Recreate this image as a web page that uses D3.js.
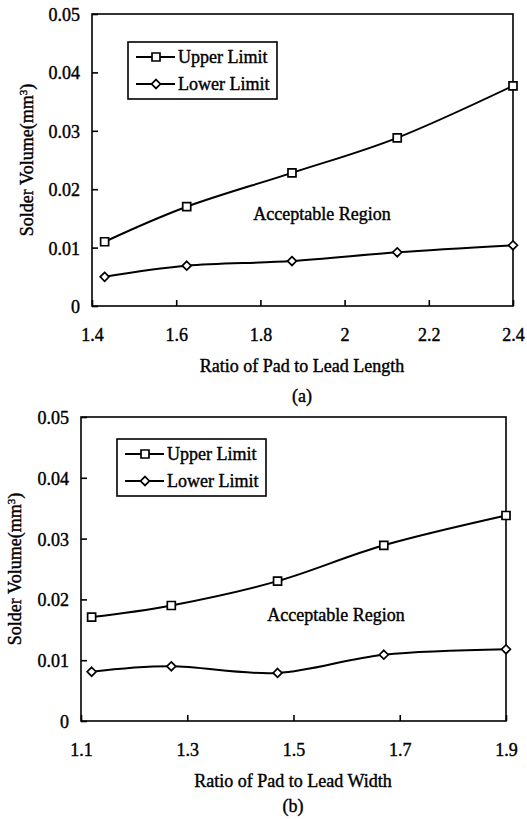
<!DOCTYPE html>
<meta charset="utf-8">
<style>
body { margin: 0; background: #fff; }
svg text { font-family: "Liberation Serif", "Times New Roman", serif; fill: #000; stroke: #000; stroke-width: 0.4px; }
.frame { fill: none; stroke: #000; stroke-width: 1.6px; }
.line { fill: none; stroke: #000; stroke-width: 2px; }
.mark { fill: #fff; stroke: #000; stroke-width: 1.7px; }
</style>
<body>
<div id="main"></div>
<script src="https://d3js.org/d3.v7.min.js"></script>
<script>
// panel (a): pad / lead length
var lengthRatio = [1.43, 1.625, 1.875, 2.125, 2.4];
var lengthUpper = [0.011, 0.017, 0.0228, 0.0288, 0.0377];
var lengthLower = [0.005, 0.0069, 0.0077, 0.0092, 0.0104];
var lengthTicks = [1.4, 1.6, 1.8, 2, 2.2, 2.4];

// panel (b): pad / lead width
var widthRatio = [1.12, 1.27, 1.47, 1.67, 1.9];
var widthUpper = [0.0171, 0.019, 0.023, 0.0289, 0.0338];
var widthLower = [0.0081, 0.009, 0.0079, 0.0109, 0.0118];
var widthTicks = [1.1, 1.3, 1.5, 1.7, 1.9];

var volumeTicks = [0, 0.01, 0.02, 0.03, 0.04, 0.05];
var seriesNames = ["Upper Limit", "Lower Limit"];

var svg = d3.select("#main").append("svg")
	.attr("width", 527)
	.attr("height", 819);

var square = d3.symbol().type(d3.symbolSquare).size(64);
var diamond = d3.symbol().type(d3.symbolDiamond2).size(50);

function panel(p) {
	var g = svg.append("g").attr("transform", "translate(0," + p.top + ")");

	var x = d3.scaleLinear().domain(p.xDomain).range([p.left, p.right]);
	var y = d3.scaleLinear().domain([0, 0.05]).range([p.bottom, p.plotTop]);

	// frame
	g.append("rect").attr("class", "frame")
		.attr("x", p.left).attr("y", p.plotTop)
		.attr("width", p.right - p.left).attr("height", p.bottom - p.plotTop);

	// axes with inward ticks
	var xAxis = g.append("g")
		.attr("transform", "translate(0," + p.bottom + ")")
		.call(d3.axisBottom(x).tickValues(p.xTicks).tickSize(-6).tickPadding(22).tickFormat(d3.format("")));
	var yAxis = g.append("g")
		.attr("transform", "translate(" + p.left + ",0)")
		.call(d3.axisLeft(y).tickValues(volumeTicks).tickSize(-6).tickPadding(12).tickFormat(function(d) { return d === 0 ? "0" : d3.format(".2f")(d); }));
	[xAxis, yAxis].forEach(function(a) {
		a.attr("font-family", "'Liberation Serif', serif").attr("font-size", 18);
		a.select(".domain").remove();
		a.selectAll(".tick line").attr("stroke-width", 1.6);
	});
	yAxis.selectAll(".tick text").attr("dy", "0.36em");

	var line = d3.line()
		.x(function(d) { return x(d[0]); })
		.y(function(d) { return y(d[1]); })
		.curve(d3.curveCardinal.tension(0));

	var upper = p.xs.map(function(v, i) { return [v, p.upper[i]]; });
	var lower = p.xs.map(function(v, i) { return [v, p.lower[i]]; });

	g.append("path").attr("class", "line").attr("d", line(upper));
	g.append("path").attr("class", "line").attr("d", line(lower));

	g.selectAll(".sq").data(upper).enter().append("path")
		.attr("class", "mark")
		.attr("d", square)
		.attr("transform", function(d) { return "translate(" + x(d[0]) + "," + y(d[1]) + ")"; });
	g.selectAll(".dm").data(lower).enter().append("path")
		.attr("class", "mark")
		.attr("d", diamond)
		.attr("transform", function(d) { return "translate(" + x(d[0]) + "," + y(d[1]) + ")"; });

	// legend
	var lg = g.append("g").attr("transform", "translate(" + p.legend[0] + "," + p.legend[1] + ")");
	lg.append("rect").attr("class", "frame")
		.attr("width", p.legendW).attr("height", 57);
	seriesNames.forEach(function(name, i) {
		var ly = 15 + i * 27;
		lg.append("line").attr("x1", 8).attr("x2", 47).attr("y1", ly).attr("y2", ly)
			.attr("stroke", "#000").attr("stroke-width", 2);
		lg.append("path").attr("class", "mark")
			.attr("d", i === 0 ? square : diamond)
			.attr("transform", "translate(28," + ly + ")");
		lg.append("text").attr("x", 50).attr("y", ly).attr("dy", "0.35em")
			.attr("font-size", 18).text(name);
	});

	g.append("text")
		.attr("x", p.region[0]).attr("y", p.region[1])
		.attr("dy", "0.35em").attr("text-anchor", "middle")
		.attr("font-size", 18).text("Acceptable Region");

	g.append("text")
		.attr("x", p.titleX).attr("y", p.bottom + 66)
		.attr("text-anchor", "middle").attr("font-size", 18)
		.text(p.xTitle);

	g.append("text")
		.attr("x", p.titleX).attr("y", p.bottom + p.tagOff)
		.attr("text-anchor", "middle").attr("font-size", 18)
		.text(p.tag);

	var yt = g.append("text")
		.attr("transform", "translate(" + p.yTitleX + "," + ((p.plotTop + p.bottom) / 2) + ") rotate(-90)")
		.attr("text-anchor", "middle").attr("font-size", 18);
	yt.append("tspan").text("Solder Volume(mm");
	yt.append("tspan").attr("font-size", 11).attr("baseline-shift", "super").text("3");
	yt.append("tspan").text(")");
}

panel({
	top: 0, left: 92, right: 513, plotTop: 14, bottom: 306,
	xDomain: [1.4, 2.4], xTicks: lengthTicks,
	xs: lengthRatio, upper: lengthUpper, lower: lengthLower,
	legend: [128, 42], legendW: 149, region: [322, 214],
	xTitle: "Ratio of Pad to Lead Length", tag: "(a)", tagOff: 96, titleX: 302, yTitleX: 33
});

panel({
	top: 410, left: 81, right: 506, plotTop: 7, bottom: 311,
	xDomain: [1.1, 1.9], xTicks: widthTicks,
	xs: widthRatio, upper: widthUpper, lower: widthLower,
	legend: [117, 29], legendW: 149, region: [336, 205],
	xTitle: "Ratio of Pad to Lead Width", tag: "(b)", tagOff: 91, titleX: 293, yTitleX: 21
});
</script>
</body>
